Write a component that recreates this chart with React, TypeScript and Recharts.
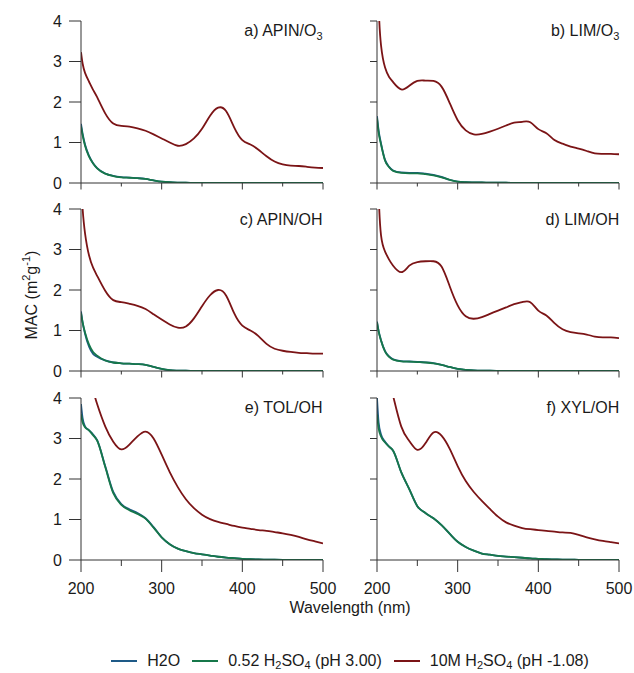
import { LineChart, Line, XAxis, YAxis } from 'recharts';

// wavelength grid (nm), shared by every panel
const WAVELENGTH = [
  200, 202, 205, 210, 215, 220, 230, 240, 250, 260, 270, 280, 290, 300, 310, 320, 330,
  340, 350, 360, 370, 380, 390, 400, 410, 420, 430, 440, 450, 460, 470, 480, 490, 500,
];

const X_TICKS = [200, 250, 300, 350, 400, 450, 500];
const Y_TICKS = [0, 1, 2, 3, 4];

// a) APIN/O3
const APIN_O3_H2O = [1.46, 1.22, 0.95, 0.67, 0.49, 0.37, 0.235, 0.175, 0.145, 0.135, 0.12, 0.1, 0.065, 0.035, 0.018, 0.01, 0.006, 0.004, 0.003, 0.003, 0.002, 0.002, 0.002, 0.001, 0.001, 0.001, 0.001, 0.001, 0, 0, 0, 0, 0, 0];
const APIN_O3_052 = [1.4, 1.18, 0.92, 0.65, 0.48, 0.36, 0.23, 0.17, 0.14, 0.13, 0.12, 0.1, 0.065, 0.035, 0.018, 0.01, 0.006, 0.004, 0.003, 0.003, 0.002, 0.002, 0.002, 0.001, 0.001, 0.001, 0.001, 0.001, 0, 0, 0, 0, 0, 0];
const APIN_O3_10M = [3.23, 2.95, 2.72, 2.5, 2.3, 2.12, 1.72, 1.47, 1.41, 1.39, 1.35, 1.29, 1.2, 1.1, 1.0, 0.92, 0.96, 1.1, 1.34, 1.66, 1.86, 1.77, 1.37, 1.06, 0.95, 0.82, 0.66, 0.53, 0.46, 0.43, 0.42, 0.4, 0.38, 0.37];

// b) LIM/O3
const LIM_O3_H2O = [1.65, 1.3, 0.98, 0.57, 0.4, 0.31, 0.26, 0.25, 0.25, 0.23, 0.2, 0.15, 0.08, 0.035, 0.02, 0.015, 0.012, 0.01, 0.008, 0.006, 0.005, 0.004, 0.003, 0.003, 0.002, 0.002, 0.002, 0.001, 0.001, 0.001, 0.001, 0, 0, 0];
const LIM_O3_052 = [1.6, 1.25, 0.95, 0.55, 0.39, 0.3, 0.25, 0.24, 0.24, 0.22, 0.19, 0.14, 0.08, 0.035, 0.02, 0.015, 0.012, 0.01, 0.008, 0.006, 0.005, 0.004, 0.003, 0.003, 0.002, 0.002, 0.002, 0.001, 0.001, 0.001, 0.001, 0, 0, 0];
const LIM_O3_10M = [6, 4.4, 3.4, 2.85, 2.62, 2.49, 2.31, 2.4, 2.52, 2.53, 2.52, 2.38, 1.98, 1.55, 1.3, 1.2, 1.21, 1.27, 1.34, 1.42, 1.49, 1.51, 1.5, 1.33, 1.23, 1.06, 0.97, 0.9, 0.85, 0.79, 0.73, 0.72, 0.72, 0.71];

// c) APIN/OH
const APIN_OH_H2O = [1.47, 1.2, 0.92, 0.6, 0.42, 0.35, 0.26, 0.21, 0.19, 0.18, 0.17, 0.15, 0.1, 0.05, 0.02, 0.01, 0.006, 0.004, 0.003, 0.003, 0.002, 0.002, 0.002, 0.001, 0.001, 0.001, 0.001, 0.001, 0, 0, 0, 0, 0, 0];
const APIN_OH_052 = [1.43, 1.2, 0.95, 0.65, 0.47, 0.38, 0.26, 0.21, 0.19, 0.18, 0.17, 0.15, 0.1, 0.05, 0.02, 0.01, 0.006, 0.004, 0.003, 0.003, 0.002, 0.002, 0.002, 0.001, 0.001, 0.001, 0.001, 0.001, 0, 0, 0, 0, 0, 0];
const APIN_OH_10M = [4.6, 4.0, 3.4, 2.85, 2.55, 2.35, 1.98, 1.75, 1.7, 1.66, 1.61, 1.53, 1.4, 1.27, 1.15, 1.07, 1.1, 1.3, 1.6, 1.87, 2.0, 1.86, 1.42, 1.12, 1.0, 0.86, 0.67, 0.55, 0.5, 0.47, 0.45, 0.44, 0.43, 0.43];

// d) LIM/OH
const LIM_OH_H2O = [1.22, 0.99, 0.76, 0.49, 0.36, 0.29, 0.245, 0.235, 0.225, 0.215, 0.195, 0.15, 0.1, 0.05, 0.03, 0.015, 0.008, 0.006, 0.005, 0.004, 0.003, 0.003, 0.002, 0.002, 0.002, 0.001, 0.001, 0.001, 0.001, 0, 0, 0, 0, 0];
const LIM_OH_052 = [1.2, 0.98, 0.75, 0.48, 0.35, 0.28, 0.24, 0.23, 0.22, 0.21, 0.19, 0.15, 0.1, 0.05, 0.03, 0.015, 0.008, 0.006, 0.005, 0.004, 0.003, 0.003, 0.002, 0.002, 0.002, 0.001, 0.001, 0.001, 0.001, 0, 0, 0, 0, 0];
const LIM_OH_10M = [6, 4.4, 3.35, 2.95, 2.75, 2.6, 2.44, 2.6, 2.69, 2.71, 2.71, 2.58, 2.1, 1.62, 1.35, 1.29, 1.33, 1.41, 1.49, 1.57, 1.65, 1.7, 1.7, 1.49, 1.37, 1.18, 1.03, 0.96, 0.93, 0.9, 0.85, 0.83, 0.83, 0.81];

// e) TOL/OH
const TOL_OH_H2O = [3.85, 3.5, 3.3, 3.2, 3.1, 2.96, 2.32, 1.68, 1.38, 1.25, 1.16, 1.03, 0.81, 0.56, 0.39, 0.28, 0.22, 0.17, 0.14, 0.11, 0.08, 0.06, 0.045, 0.03, 0.02, 0.015, 0.01, 0.007, 0.005, 0.004, 0.003, 0.002, 0.001, 0.001];
const TOL_OH_052 = [3.6, 3.4, 3.28, 3.2, 3.08, 2.95, 2.3, 1.65, 1.36, 1.23, 1.14, 1.02, 0.8, 0.56, 0.39, 0.28, 0.22, 0.17, 0.14, 0.11, 0.08, 0.06, 0.045, 0.03, 0.02, 0.015, 0.01, 0.007, 0.005, 0.004, 0.003, 0.002, 0.001, 0.001];
const TOL_OH_10M = [5.5, 5.3, 5.0, 4.6, 4.2, 3.85, 3.3, 2.92, 2.73, 2.85, 3.05, 3.17, 3.0, 2.6, 2.17, 1.8, 1.5, 1.28, 1.12, 1.01, 0.94, 0.89, 0.84, 0.8, 0.77, 0.74, 0.72, 0.69, 0.66, 0.62, 0.57, 0.51, 0.46, 0.41];

// f) XYL/OH
const XYL_OH_H2O = [4.0, 3.4, 3.1, 2.92, 2.8, 2.7, 2.17, 1.75, 1.33, 1.16, 1.03, 0.86, 0.65, 0.45, 0.32, 0.23, 0.16, 0.13, 0.1, 0.085, 0.07, 0.055, 0.04, 0.03, 0.02, 0.015, 0.01, 0.01, 0.005, 0.005, 0.004, 0.003, 0.002, 0.002];
const XYL_OH_052 = [3.6, 3.25, 3.05, 2.9, 2.8, 2.7, 2.17, 1.75, 1.33, 1.16, 1.03, 0.86, 0.65, 0.45, 0.32, 0.23, 0.16, 0.13, 0.1, 0.085, 0.07, 0.055, 0.04, 0.03, 0.02, 0.015, 0.01, 0.01, 0.005, 0.005, 0.004, 0.003, 0.002, 0.002];
const XYL_OH_10M = [6, 5.8, 5.4, 4.8, 4.4, 4.05, 3.3, 2.94, 2.72, 2.88, 3.15, 3.07, 2.75, 2.32, 1.95, 1.68, 1.46, 1.26, 1.07, 0.93, 0.85, 0.79, 0.76, 0.74, 0.72, 0.7, 0.68, 0.67, 0.62, 0.56, 0.51, 0.47, 0.44, 0.41];

const PANELS = [
  { label: 'a) APIN/O', sub: '3', h2o: APIN_O3_H2O, mid: APIN_O3_052, high: APIN_O3_10M },
  { label: 'b) LIM/O', sub: '3', h2o: LIM_O3_H2O, mid: LIM_O3_052, high: LIM_O3_10M },
  { label: 'c) APIN/OH', sub: '', h2o: APIN_OH_H2O, mid: APIN_OH_052, high: APIN_OH_10M },
  { label: 'd) LIM/OH', sub: '', h2o: LIM_OH_H2O, mid: LIM_OH_052, high: LIM_OH_10M },
  { label: 'e) TOL/OH', sub: '', h2o: TOL_OH_H2O, mid: TOL_OH_052, high: TOL_OH_10M },
  { label: 'f) XYL/OH', sub: '', h2o: XYL_OH_H2O, mid: XYL_OH_052, high: XYL_OH_10M },
];

// legend names: even parts normal, odd parts subscript
const SERIES = [
  { key: 'h2o', name: ['H2O'], color: '#1e5a87' },
  { key: 'mid', name: ['0.52 H', '2', 'SO', '4', ' (pH 3.00)'], color: '#16774a' },
  { key: 'high', name: ['10M H', '2', 'SO', '4', ' (pH -1.08)'], color: '#7b1416' },
];

const FONT = '"Liberation Sans", Arial, Helvetica, sans-serif';
const AXIS = '#333';
const TEXT = '#1a1a1a';

const COL_LEFT = [80.5, 377.3];
const ROW_TOP = [20.5, 209, 397.5];
const PLOT_W = 242;
const PLOT_H = 162;
const Y_AXIS_W = 40;
const X_AXIS_H = 40;
const M_TOP = 12;
const M_RIGHT = 16;

const makeXTick = (labels: boolean) => (props: any) => {
  const { x, y, payload } = props;
  const major = payload.value % 100 === 0;
  const len = labels ? (major ? 12 : 6) : (major ? 6.5 : 3.5);
  return (
    <g>
      <line x1={x} x2={x} y1={y} y2={y + len} stroke={AXIS} />
      {labels && major && (
        <text x={x} y={y + 34} textAnchor="middle" fontSize={16} fill={TEXT} fontFamily={FONT}>
          {payload.value}
        </text>
      )}
    </g>
  );
};

const makeYTick = (labels: boolean) => (props: any) => {
  const { x, y, payload } = props;
  const len = labels ? 12 : 7;
  return (
    <g>
      <line x1={x - len} x2={x} y1={y} y2={y} stroke={AXIS} />
      {labels && (
        <text x={x - 19} y={y + 5.5} textAnchor="end" fontSize={16} fill={TEXT} fontFamily={FONT}>
          {payload.value}
        </text>
      )}
    </g>
  );
};

const Panel = ({ panel, col, row }: { panel: any; col: number; row: number }) => {
  const data = WAVELENGTH.map((w, i) => ({ w, h2o: panel.h2o[i], mid: panel.mid[i], high: panel.high[i] }));
  return (
    <div style={{ position: 'absolute', left: COL_LEFT[col] - Y_AXIS_W, top: ROW_TOP[row] - M_TOP }}>
      <LineChart
        width={Y_AXIS_W + PLOT_W + M_RIGHT}
        height={M_TOP + PLOT_H + X_AXIS_H}
        data={data}
        margin={{ top: M_TOP, right: M_RIGHT, bottom: 0, left: 0 }}
      >
        <XAxis
          dataKey="w"
          type="number"
          domain={[200, 500]}
          ticks={X_TICKS}
          interval={0}
          tickSize={0}
          tickMargin={0}
          tickLine={false}
          axisLine={{ stroke: AXIS }}
          tick={makeXTick(row === 2)}
          height={X_AXIS_H}
          allowDataOverflow
        />
        <YAxis
          type="number"
          domain={[0, 4]}
          ticks={Y_TICKS}
          interval={0}
          tickSize={0}
          tickMargin={0}
          tickLine={false}
          axisLine={{ stroke: AXIS }}
          tick={makeYTick(col === 0)}
          width={Y_AXIS_W}
          allowDataOverflow
        />
        {SERIES.map(s => (
          <Line
            key={s.key}
            dataKey={s.key}
            type={s.key === 'high' ? 'natural' : 'monotone'}
            stroke={s.color}
            strokeWidth={1.8}
            dot={false}
            activeDot={false}
            isAnimationActive={false}
          />
        ))}
      </LineChart>
    </div>
  );
};

export default function App() {
  return (
    <div style={{ position: 'absolute', left: 0, top: 0, width: 634, height: 673, background: '#fff', fontFamily: FONT }}>
      {PANELS.map((p, i) => (
        <Panel key={i} panel={p} col={i % 2} row={Math.floor(i / 2)} />
      ))}

      <svg width={634} height={673} style={{ position: 'absolute', left: 0, top: 0, pointerEvents: 'none' }} fontFamily={FONT}>
        {PANELS.map((p, i) => {
          const col = i % 2;
          const row = Math.floor(i / 2);
          return (
            <text key={i} x={COL_LEFT[col] + PLOT_W} y={ROW_TOP[row] + 15.5} textAnchor="end" fontSize={16} fill={TEXT}>
              {p.label}
              {p.sub && <tspan dy={4} fontSize={11}>{p.sub}</tspan>}
            </text>
          );
        })}

        {/* y title */}
        <text transform="translate(37, 295) rotate(-90)" textAnchor="middle" fontSize={16} fill={TEXT}>
          MAC (m<tspan dy={-7} fontSize={11}>2</tspan><tspan dy={7}>g</tspan>
          <tspan dy={-7} fontSize={11}>-1</tspan><tspan dy={7}>)</tspan>
        </text>

        {/* x title */}
        <text x={350} y={613} textAnchor="middle" fontSize={16} fill={TEXT}>Wavelength (nm)</text>
      </svg>

      {/* legend */}
      <div
        style={{
          position: 'absolute', left: 0, width: 700, top: 651, height: 20,
          display: 'flex', justifyContent: 'center', alignItems: 'center',
          fontSize: 16, color: TEXT, whiteSpace: 'nowrap',
        }}
      >
        {SERIES.map(s => (
          <div key={s.key} style={{ display: 'flex', alignItems: 'center', margin: '0 6px' }}>
            <span style={{ display: 'inline-block', width: 26, height: 2, background: s.color, marginRight: 10 }} />
            <span>
              {s.name.map((part, j) =>
                j % 2 === 1 ? (
                  <sub key={j} style={{ fontSize: 11, verticalAlign: -3, lineHeight: 0 }}>{part}</sub>
                ) : (
                  <span key={j}>{part}</span>
                ),
              )}
            </span>
          </div>
        ))}
      </div>
    </div>
  );
}
